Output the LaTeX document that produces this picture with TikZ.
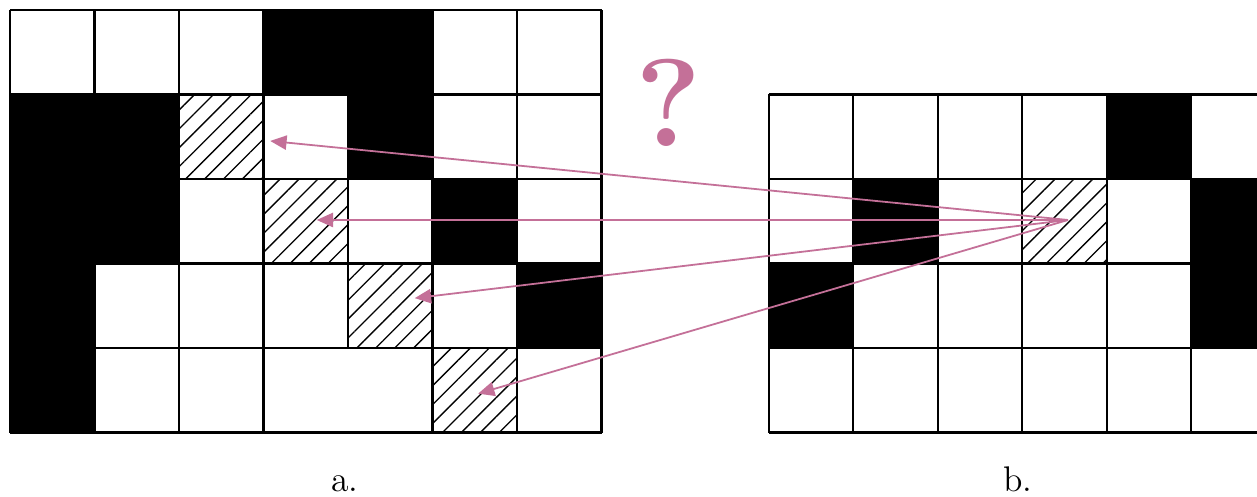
\documentclass[tikz,border=0pt]{standalone}
\usetikzlibrary{arrows.meta,patterns.meta}
\definecolor{qpink}{RGB}{196,112,152}

\begin{document}
\begin{tikzpicture}[
  gridline/.style={draw=black,line width=0.7pt},
  blk/.style={fill=black},
  hatch/.style={pattern={Lines[angle=45,distance=4.5pt,line width=0.45pt]}},
  arr/.style={-{Triangle[length=5.5pt,width=4.8pt]},line width=0.6pt,qpink},
  qmark/.style={font=\fontsize{42}{48}\selectfont\bfseries,text=qpink},
  lbl/.style={font=\fontsize{12}{14}\selectfont,anchor=base,inner sep=0pt}
]
\fill[white] (-0.118,-0.763) rectangle (14.757,5.118);
\useasboundingbox (-0.118,-0.763) rectangle (14.757,5.118);

% grid a
\foreach \r/\c in {0/3,0/4,1/0,1/1,1/4,2/0,2/1,2/5,3/0,3/6,4/0}
  \fill[blk] (\c,4-\r) rectangle ++(1,1);
\foreach \r/\c in {1/2,2/3,3/4,4/5}
  \fill[hatch] (\c,4-\r) rectangle ++(1,1);
\foreach \y in {0,...,5}
  \draw[gridline] (0,\y) -- (7,\y);
\foreach \x in {0,1,2,3,5,6,7}
  \draw[gridline] (\x,0) -- (\x,5);
\draw[gridline] (4,1) -- (4,5);

% grid b
\begin{scope}[shift={(8.98,0)}]
  \clip (-0.1,-0.1) rectangle (5.777,4.1);
  \foreach \r/\c in {0/4,1/1,1/5,2/0,2/5}
    \fill[blk] (\c,3-\r) rectangle ++(1,1);
  \fill[hatch] (3,2) rectangle ++(1,1);
  \foreach \y in {0,...,4}
    \draw[gridline] (0,\y) -- (7,\y);
  \foreach \x in {0,...,7}
    \draw[gridline] (\x,0) -- (\x,4);
\end{scope}

% arrows from the hatched cell of b
\coordinate (src) at (12.52,2.515);
\coordinate (t1) at (3.08,3.45);
\coordinate (t2) at (3.63,2.515);
\coordinate (t3) at (4.79,1.59);
\coordinate (t4) at (5.54,0.46);
\foreach \t in {t1,t2,t3,t4}
  \draw[arr] (src) -- (\t);

\node[qmark] (quest) at (7.79,3.9) {?};
\node[lbl] (labela) at (3.96,-0.70) {a.};
\node[lbl] (labelb) at (11.93,-0.70) {b.};
\end{tikzpicture}
\end{document}
